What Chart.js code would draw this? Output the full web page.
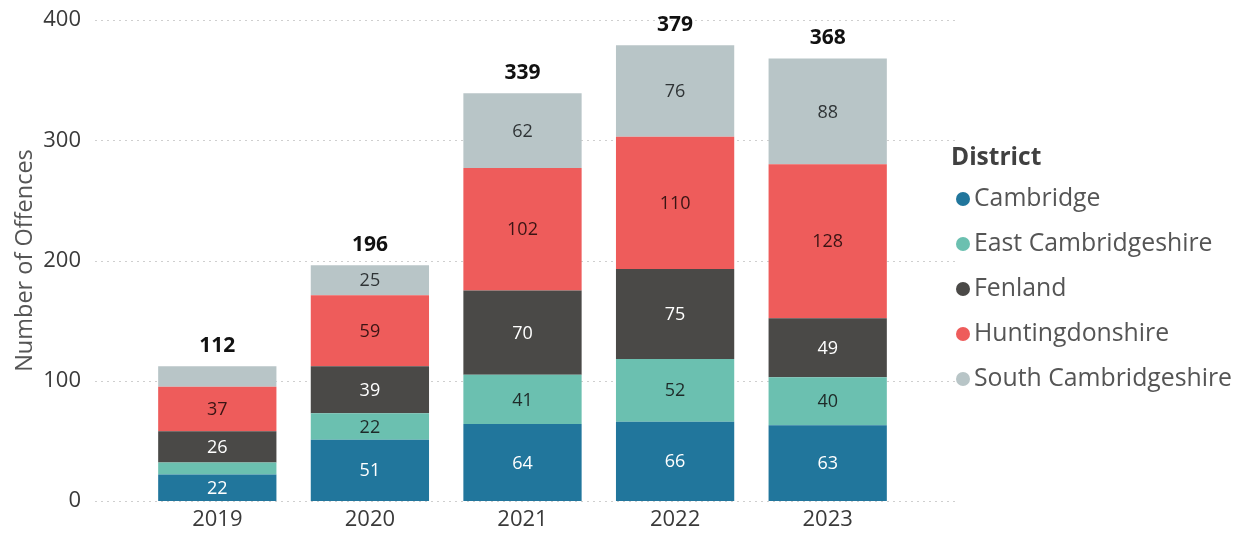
<!DOCTYPE html>
<html><head><meta charset="utf-8">
<script src="https://cdn.jsdelivr.net/npm/chart.js@4.4.0/dist/chart.umd.min.js"></script>
<style>html,body{margin:0;padding:0;background:#fff;overflow:hidden;}#wrap{width:1248px;height:536px;}</style>
</head><body><div id="wrap"><canvas id="c" width="1248" height="536"></canvas></div>
<script>
const years = ['2019', '2020', '2021', '2022', '2023'];
const districts = ['Cambridge', 'East Cambridgeshire', 'Fenland', 'Huntingdonshire', 'South Cambridgeshire'];
const cambridge = [22, 51, 64, 66, 63];
const eastCambridgeshire = [10, 22, 41, 52, 40];
const fenland = [26, 39, 70, 75, 49];
const huntingdonshire = [37, 59, 102, 110, 128];
const southCambridgeshire = [17, 25, 62, 76, 88];
const yTicks = [0, 100, 200, 300, 400];
const legendTitle = 'District';
const yTitle = 'Number of Offences';

const seriesValues = [cambridge, eastCambridgeshire, fenland, huntingdonshire, southCambridgeshire];
const colors = ['#21769c', '#6bc0b0', '#4a4947', '#ee5c5b', '#b8c5c7'];
const labelColors = ['#ffffff', '#1e2a28', '#ffffff', '#3a1414', '#2f3436'];
const FONT = "'Open Sans', 'Noto Sans', sans-serif";

const gridPlugin = {
  id: 'customGrid',
  beforeDatasetsDraw(chart) {
    const ctx = chart.ctx, y = chart.scales.y, a = chart.chartArea;
    ctx.save();
    ctx.strokeStyle = '#cfcfcf';
    ctx.lineWidth = 1;
    ctx.setLineDash([2, 4]);
    yTicks.forEach(v => {
      const py = Math.round(y.getPixelForValue(v)) + 0.5;
      ctx.beginPath();
      ctx.moveTo(a.left - 46, py);
      ctx.lineTo(a.right + 52, py);
      ctx.stroke();
    });
    ctx.restore();
  }
};

const labelPlugin = {
  id: 'valueLabels',
  afterDatasetsDraw(chart) {
    const ctx = chart.ctx;
    ctx.save();
    ctx.textAlign = 'center';
    ctx.textBaseline = 'middle';
    ctx.font = '18px ' + FONT;
    chart.data.datasets.forEach((ds, di) => {
      const meta = chart.getDatasetMeta(di);
      meta.data.forEach((el, i) => {
        const v = ds.data[i];
        if (v < 20) return;
        ctx.fillStyle = labelColors[di];
        ctx.fillText(String(v), el.x, (el.y + el.base) / 2 + 1);
      });
    });
    ctx.font = 'bold 21px ' + FONT;
    ctx.fillStyle = '#111';
    ctx.textBaseline = 'middle';
    const last = chart.getDatasetMeta(chart.data.datasets.length - 1);
    years.forEach((yr, i) => {
      const total = seriesValues.reduce((s, arr) => s + arr[i], 0);
      const el = last.data[i];
      ctx.fillText(String(total), el.x, el.y - 20);
    });
    ctx.restore();
  }
};

const legendPlugin = {
  id: 'sideLegend',
  afterDraw(chart) {
    const ctx = chart.ctx;
    ctx.save();
    ctx.textAlign = 'left';
    ctx.textBaseline = 'middle';
    ctx.font = 'bold 24.5px ' + FONT;
    ctx.fillStyle = '#404040';
    ctx.fillText(legendTitle, 951, 158);
    ctx.font = '24.8px ' + FONT;
    chart.data.datasets.forEach((ds, i) => {
      const cy = 199 + i * 45;
      ctx.fillStyle = ds.backgroundColor;
      ctx.beginPath();
      ctx.arc(963, cy, 7, 0, Math.PI * 2);
      ctx.fill();
      ctx.fillStyle = '#555555';
      ctx.fillText(ds.label, 974, cy);
    });
    ctx.restore();
  }
};

new Chart(document.getElementById('c'), {
  type: 'bar',
  data: {
    labels: years,
    datasets: districts.map((d, i) => ({
      label: d,
      data: seriesValues[i],
      backgroundColor: colors[i],
      borderWidth: 0,
      barPercentage: 0.775,
      categoryPercentage: 1.0
    }))
  },
  options: {
    responsive: false,
    animation: false,
    devicePixelRatio: 1,
    layout: { padding: { left: 11, right: 344, top: 20, bottom: 3 } },
    plugins: {
      legend: { display: false },
      tooltip: { enabled: false }
    },
    scales: {
      x: {
        stacked: true,
        grid: { display: false, drawTicks: false },
        border: { display: false },
        afterFit(s) { s.height = 32; },
        ticks: { color: '#3a3a3a', font: { family: FONT, size: 22 }, padding: 6 }
      },
      y: {
        stacked: true,
        min: 0, max: 400,
        afterFit(s) { s.width = 130; s.paddingTop = 0; s.paddingBottom = 0; },
        grid: { display: false, drawTicks: false },
        border: { display: false },
        afterBuildTicks(scale) { scale.ticks = yTicks.map(v => ({ value: v })); },
        ticks: { color: '#3a3a3a', font: { family: FONT, size: 22 }, padding: 60 },
        title: { display: true, text: yTitle, color: '#555', font: { family: FONT, size: 23.5 }, padding: { top: 0, bottom: 4 } }
      }
    }
  },
  plugins: [gridPlugin, labelPlugin, legendPlugin]
});
</script>
</body></html>
